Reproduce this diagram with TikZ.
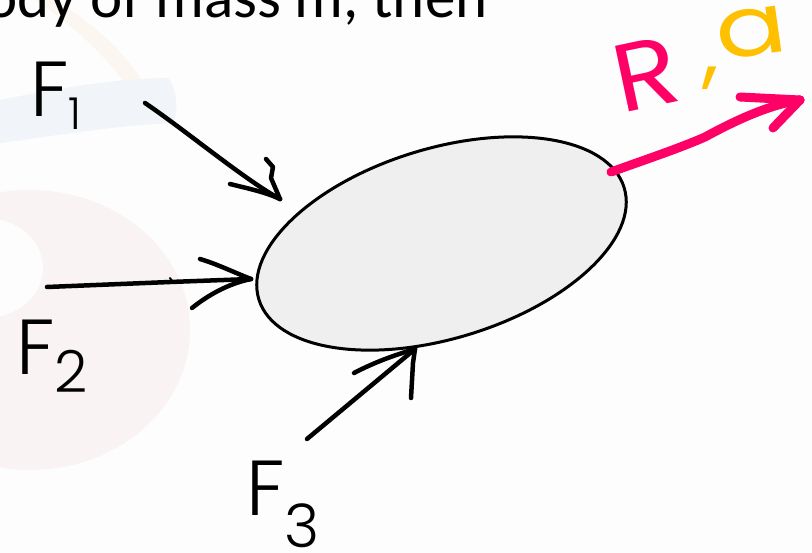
\documentclass[tikz,border=0pt]{standalone}
\usepackage{fontspec}
\setmainfont{Carlito}
\IfFontExistsTF{Poppins Light}{\newfontfamily\handfont{Poppins Light}}{%
  \IfFontExistsTF{Lato Light}{\newfontfamily\handfont{Lato Light}}{%
    \IfFontExistsTF{Open Sans Light}{\newfontfamily\handfont{Open Sans Light}}{%
      \newfontfamily\handfont{Fira Sans}}}}
\newfontfamily\penfont{Poppins}
\usetikzlibrary{shapes.geometric}
\definecolor{bg}{HTML}{FDFDFD}
\definecolor{wmpink}{HTML}{F9F3F3}
\definecolor{wmblue}{HTML}{F1F4F8}
\definecolor{wmorange}{HTML}{FBF6F0}
\definecolor{bodyfill}{HTML}{EFEFEF}
\definecolor{hotpink}{HTML}{FF0066}
\definecolor{gold}{HTML}{FFC000}
\begin{document}
\begin{tikzpicture}[x=1pt,y=-1pt,
  pen/.style={line width=4.5pt, line cap=round, line join=round},
  pinkpen/.style={draw=hotpink, line width=9pt, line cap=round, line join=round},
  flabel/.style={anchor=base west, inner sep=0pt, font=\handfont\fontsize{78}{78}\selectfont},
  rlabel/.style={inner sep=0pt, font=\penfont\fontsize{84}{84}\selectfont},
]
\useasboundingbox (0,0) rectangle (812,553);
\fill[bg] (0,0) rectangle (812,553);
\begin{scope}
\clip (0,0) rectangle (812,553);
% faint watermark
\fill[wmorange] (55,0) .. controls (95,25) and (130,55) .. (150,95) -- (136,100) .. controls (115,65) and (80,30) .. (35,0) -- cycle;
\fill[wmblue] (0,100) .. controls (60,88) and (120,78) .. (168,78) .. controls (178,90) and (178,115) .. (173,123) .. controls (120,125) and (60,135) .. (0,143) -- cycle;
\fill[wmpink] (30,330) ellipse [x radius=160pt, y radius=140pt];
\fill[bg] (-15,268) ellipse [x radius=58pt, y radius=50pt];
\node[anchor=base west, inner sep=0pt, font=\fontsize{61}{61}\selectfont] (title) at (-15,18) {ody of mass m, then};
\end{scope}

% body
\node[draw, ellipse, fill=bodyfill, line width=3pt, minimum width=382pt, minimum height=190pt, rotate=17, inner sep=0pt] (body) at (441.5,243.5) {};

% F1
\coordinate (f1s) at (145,103);
\coordinate (f1t) at (280,199);
\draw[pen] (f1s) .. controls (185,130) and (245,180) .. (f1t);
\draw[pen] (230,184) .. controls (250,189) and (265,192) .. (f1t);
\draw[pen] (266,159) -- (273,167) -- (271,178) -- (f1t);
\node[flabel] (F1) at (30,117) {F\raisebox{-13pt}{\fontsize{44}{44}\selectfont 1}};

% F2
\coordinate (f2s) at (47,287);
\coordinate (f2t) at (251,279);
\draw[pen] (f2s) -- (170,282) -- (f2t);
\draw[pen] (200,259) .. controls (217,264) and (233,272) .. (f2t);
\draw[pen] (192,308) .. controls (207,296) and (227,284) .. (f2t);
\draw[line width=2pt, line cap=round] (170,278) -- (172,281);
\node[flabel] (F2) at (16,375) {F\raisebox{-18pt}{\fontsize{58}{58}\selectfont 2}};

% F3
\coordinate (f3s) at (307,439);
\coordinate (f3t) at (415,349);
\draw[pen] (f3s) -- (f3t);
\draw[pen] (354,373) .. controls (375,362) and (395,355) .. (f3t);
\draw[pen] (411,398) -- (413,363) -- (f3t);
\node[flabel] (F3) at (246,515) {F\raisebox{-32pt}{\fontsize{60}{60}\selectfont 3}};

% resultant
\coordinate (rs) at (611,172);
\coordinate (rt) at (800,100);
\draw[pinkpen] (rs) .. controls (650,158) and (680,148) .. (705,137) .. controls (740,118) and (770,105) .. (rt);
\draw[pinkpen] (740,97) -- (rt);
\draw[pinkpen] (773,128) -- (rt);
\node[rlabel, text=hotpink, rotate=12, font=\penfont\fontsize{96}{96}\selectfont, xscale=1.1] (R) at (646,74) {R};
\node[rlabel, text=gold] (comma) at (711,78) {,};
\node[rlabel, text=gold, rotate=8, xscale=1.25] (acc) at (751,33) {a};
\end{tikzpicture}
\end{document}
